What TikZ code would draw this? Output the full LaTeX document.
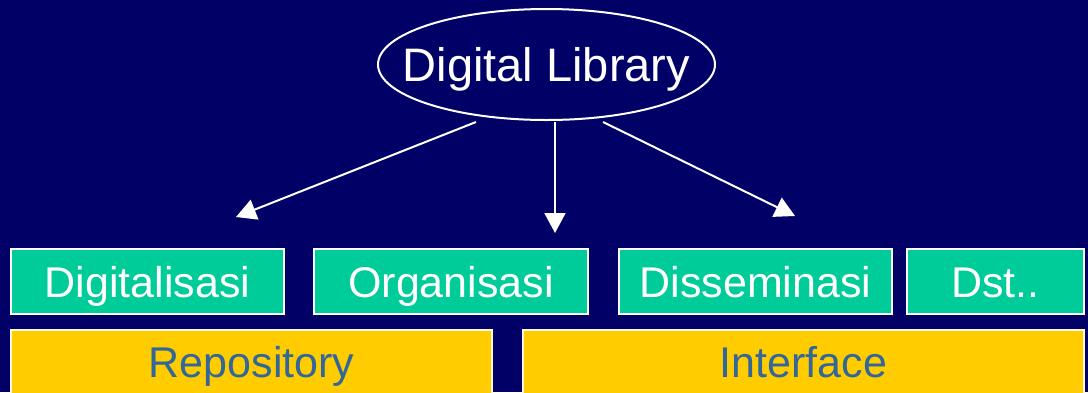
\documentclass[tikz,border=0pt]{standalone}
\usepackage{fontspec}
\setmainfont{Liberation Sans}
\usetikzlibrary{shapes.geometric,arrows.meta}
\definecolor{navybg}{HTML}{000066}
\definecolor{boxgreen}{HTML}{00CC99}
\definecolor{boxyellow}{HTML}{FFCC00}
\definecolor{textblue}{HTML}{336699}
\tikzset{
  greenbox/.style={draw=white, line width=1.2bp, fill=boxgreen, text=white,
    minimum height=65bp, inner sep=0pt, text height=31bp, text depth=0pt,
    font=\fontsize{43bp}{50bp}\selectfont},
  yellowbox/.style={draw=white!85!boxyellow, line width=1.2bp, fill=boxyellow, text=textblue,
    minimum height=76bp, inner sep=0pt, text height=31bp, text depth=13bp,
    font=\fontsize{43bp}{50bp}\selectfont},
  topellipse/.style={ellipse, draw=white, line width=2bp, text=white,
    minimum width=337bp, minimum height=111bp, inner xsep=-40bp, inner ysep=0pt,
    text height=34bp, text depth=0pt, font=\fontsize{47bp}{56bp}\selectfont},
  arrowline/.style={draw=white, line width=2bp, -{Triangle[width=21bp,length=20bp]}}
}
\begin{document}
\begin{tikzpicture}[x=1bp,y=-1bp]
\useasboundingbox (0,0) rectangle (1088,392);
\clip (0,0) rectangle (1088,392);
\fill[navybg] (0,0) rectangle (1088,392);

\node[topellipse] (dl) at (546.5,64.5) {Digital Library};

\node[greenbox, minimum width=273bp] (dig) at (147.5,281.5) {Digitalisasi};
\node[greenbox, minimum width=274bp] (org) at (451,281.5) {Organisasi};
\node[greenbox, minimum width=273bp] (dis) at (755.5,281.5) {Disseminasi};
\node[greenbox, minimum width=177bp] (dst) at (995.5,281.5) {Dst..};

\node[yellowbox, minimum width=481bp] (rep) at (251.5,368) {Repository};
\node[yellowbox, minimum width=561bp] (int) at (803.5,368) {Interface};

\coordinate (s1) at (476,122);
\coordinate (s2) at (555,122);
\coordinate (s3) at (603,122);
\coordinate (e1) at (236,217);
\coordinate (e2) at (555,233);
\coordinate (e3) at (795,216);

\draw[arrowline] (s1) -- (e1);
\draw[arrowline] (s2) -- (e2);
\draw[arrowline] (s3) -- (e3);
\end{tikzpicture}
\end{document}
